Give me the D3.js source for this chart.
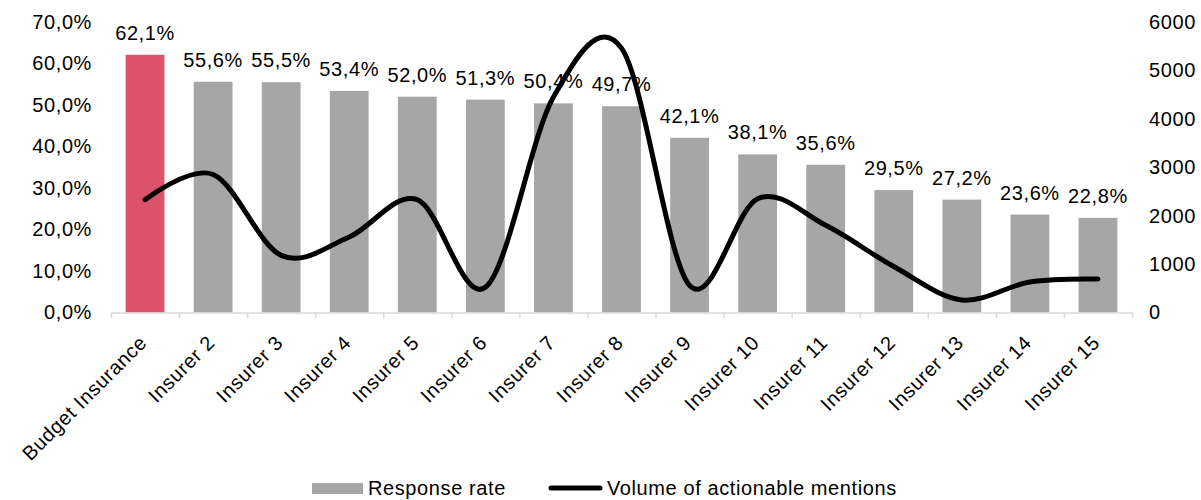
<!DOCTYPE html>
<html>
<head>
<meta charset="utf-8">
<script src="https://cdn.jsdelivr.net/npm/d3@7"></script>
<style>
  html, body { margin: 0; padding: 0; background: #fff; }
  svg { display: block; font-family: "Liberation Sans", Arial, sans-serif; }
  svg text { letter-spacing: 0.6px; }
</style>
</head>
<body>
<svg id="chart" width="1201" height="500"></svg>
<script>
const categories = ["Budget Insurance", "Insurer 2", "Insurer 3", "Insurer 4", "Insurer 5", "Insurer 6", "Insurer 7", "Insurer 8", "Insurer 9", "Insurer 10", "Insurer 11", "Insurer 12", "Insurer 13", "Insurer 14", "Insurer 15"];
const responseRate = [0.621, 0.556, 0.555, 0.534, 0.520, 0.513, 0.504, 0.497, 0.421, 0.381, 0.356, 0.295, 0.272, 0.236, 0.228];
const actionableMentions = [2330, 2850, 1180, 1560, 2330, 520, 4450, 5460, 560, 2350, 1800, 950, 260, 630, 690];
const leftTicks = [0, 0.1, 0.2, 0.3, 0.4, 0.5, 0.6, 0.7];
const rightTicks = [0, 1000, 2000, 3000, 4000, 5000, 6000];
const seriesNames = ["Response rate", "Volume of actionable mentions"];

(function () {
const svg = d3.select("#chart");
const pLeft = 111, pRight = 1132, pTop = 22, pBottom = 312.5;
const fontSize = 20;

const locale = d3.formatLocale({decimal: ",", thousands: "", grouping: [3], currency: ["", ""]});
const pct = locale.format(".1%");

const x = d3.scaleBand().domain(categories).range([pLeft, pRight]).paddingInner(0.43).paddingOuter(0.215);
const xEdge = d3.scaleLinear().domain([0, categories.length]).range([pLeft, pRight]);
const yL = d3.scaleLinear().domain([0, 0.7]).range([pBottom, pTop]);
const yR = d3.scaleLinear().domain([0, 6000]).range([pBottom, pTop]);

// bars
svg.append("g").selectAll("rect").data(categories).join("rect")
  .attr("x", d => x(d))
  .attr("y", (d, i) => yL(responseRate[i]))
  .attr("width", x.bandwidth())
  .attr("height", (d, i) => yL(0) - yL(responseRate[i]))
  .attr("fill", (d, i) => i === 0 ? "#db536a" : "#a6a6a6");

// data labels
svg.append("g").selectAll("text").data(categories).join("text")
  .attr("x", d => x(d) + x.bandwidth() / 2)
  .attr("y", (d, i) => yL(responseRate[i]) - 15)
  .attr("text-anchor", "middle")
  .attr("font-size", fontSize)
  .attr("fill", "#000")
  .text((d, i) => pct(responseRate[i]));

// x axis with boundary ticks
const xAxis = svg.append("g").attr("transform", `translate(0,${pBottom})`)
  .call(d3.axisBottom(xEdge).tickValues(d3.range(categories.length + 1)).tickFormat("").tickSize(6).tickSizeOuter(0));
xAxis.selectAll("path, line").attr("stroke", "#d9d9d9").attr("stroke-width", 1.5);

// x labels
svg.append("g").selectAll("text").data(categories).join("text")
  .attr("transform", d => `translate(${x(d) + x.bandwidth() / 2 + 3},344) rotate(-45)`)
  .attr("text-anchor", "end")
  .attr("font-size", fontSize)
  .attr("fill", "#000")
  .text(d => d);

// left axis
const yAxisL = svg.append("g").attr("transform", `translate(${pLeft},0)`)
  .call(d3.axisLeft(yL).tickValues(leftTicks).tickFormat(pct).tickSize(0).tickPadding(19));
yAxisL.select(".domain").remove();
yAxisL.selectAll("text").attr("font-size", fontSize).attr("font-family", "Liberation Sans, Arial, sans-serif").attr("fill", "#000");

// right axis
const yAxisR = svg.append("g").attr("transform", `translate(${pRight},0)`)
  .call(d3.axisRight(yR).tickValues(rightTicks).tickFormat(d3.format("d")).tickSize(0).tickPadding(17));
yAxisR.select(".domain").remove();
yAxisR.selectAll("text").attr("font-size", fontSize).attr("font-family", "Liberation Sans, Arial, sans-serif").attr("fill", "#000");

// line
const line = d3.line()
  .x((d, i) => x(categories[i]) + x.bandwidth() / 2)
  .y(d => yR(d))
  .curve(d3.curveCardinal.tension(0));
svg.append("path").datum(actionableMentions)
  .attr("d", line)
  .attr("fill", "none")
  .attr("stroke", "#000")
  .attr("stroke-width", 5)
  .attr("stroke-linecap", "round")
  .attr("stroke-linejoin", "round");

// legend
const lg = svg.append("g");
lg.append("rect").attr("x", 312).attr("y", 483).attr("width", 51).attr("height", 11).attr("fill", "#a6a6a6");
lg.append("text").attr("x", 368).attr("y", 495).attr("font-size", fontSize).attr("fill", "#000").text(seriesNames[0]);
lg.append("line").attr("x1", 551).attr("x2", 600).attr("y1", 488).attr("y2", 488)
  .attr("stroke", "#000").attr("stroke-width", 5).attr("stroke-linecap", "round");
lg.append("text").attr("x", 607).attr("y", 495).attr("font-size", fontSize).attr("fill", "#000").text(seriesNames[1]);
})();
</script>
</body>
</html>
